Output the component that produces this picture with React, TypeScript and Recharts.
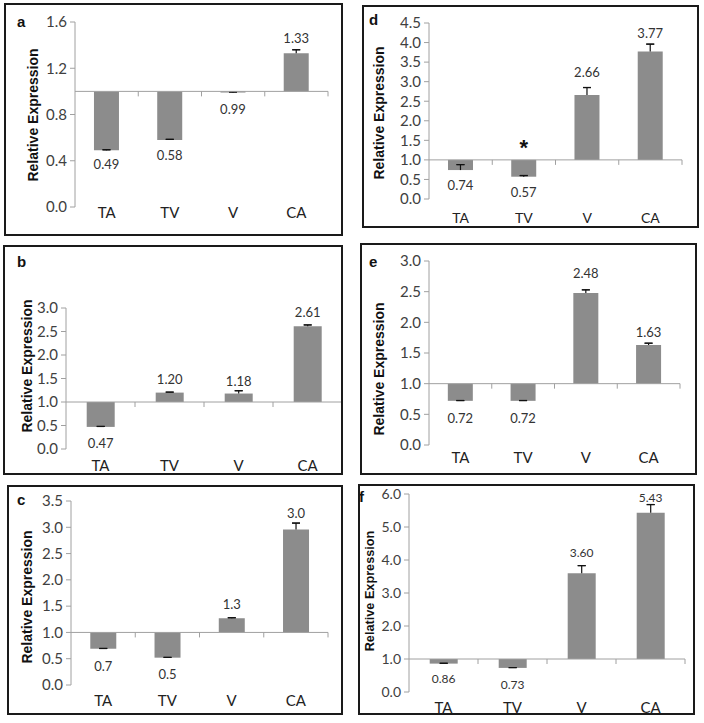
import React from 'react';
import { BarChart, Bar, XAxis, YAxis, ReferenceLine, ErrorBar, LabelList, Label } from 'recharts';

const categories = ['TA', 'TV', 'V', 'CA'];
const baseline = 1;

const valuesA = [0.49, 0.58, 0.99, 1.33];
const errorsA = [0.005, 0.005, 0.005, 0.03];
const ticksA = [0, 0.4, 0.8, 1.2, 1.6];

const valuesB = [0.47, 1.2, 1.18, 2.61];
const errorsB = [0.01, 0.01, 0.06, 0.03];
const ticksB = [0, 0.5, 1, 1.5, 2, 2.5, 3];

const valuesC = [0.69, 0.52, 1.27, 2.96];
const errorsC = [0.005, 0.005, 0.01, 0.12];
const ticksC = [0, 0.5, 1, 1.5, 2, 2.5, 3, 3.5];

const valuesD = [0.74, 0.57, 2.66, 3.77];
const errorsD = [0.14, 0.03, 0.19, 0.19];
const ticksD = [0, 0.5, 1, 1.5, 2, 2.5, 3, 3.5, 4, 4.5];
const annotD = ['', '*', '', ''];

const valuesE = [0.72, 0.72, 2.48, 1.63];
const errorsE = [0.005, 0.005, 0.05, 0.03];
const ticksE = [0, 0.5, 1, 1.5, 2, 2.5, 3];

const valuesF = [0.86, 0.73, 3.6, 5.43];
const errorsF = [0.01, 0.01, 0.23, 0.25];
const ticksF = [0, 1, 2, 3, 4, 5, 6];

const yTitle = 'Relative Expression';

type Panel = {
  letter: string;
  values: number[];
  errors: number[];
  ticks: number[];
  annot?: string[];
  tickDec: number;
  labelDec: number;
  box: { left: number; top: number; w: number; h: number };
  plot: { x: number; top: number; bottom: number; right: number };
  catMargin: number;
  tickFont: number;
  dataFont: number;
  catFont: number;
  yLabel: { x: number; y: number; size: number };
  letterPos: { x: number; y: number };
  labelDy: number[];
};

const panels: Panel[] = [
  {
    letter: 'a', values: valuesA, errors: errorsA, ticks: ticksA, tickDec: 1, labelDec: 2,
    box: { left: 4, top: 3, w: 339, h: 233 },
    plot: { x: 75, top: 22, bottom: 207, right: 328 },
    catMargin: 0, tickFont: 15, dataFont: 13, catFont: 15,
    yLabel: { x: 33, y: 115, size: 14 }, letterPos: { x: 17, y: 27 },
    labelDy: [14, 15, 16, 15],
  },
  {
    letter: 'b', values: valuesB, errors: errorsB, ticks: ticksB, tickDec: 1, labelDec: 2,
    box: { left: 3, top: 245, w: 340, h: 230 },
    plot: { x: 66, top: 308, bottom: 449, right: 342 },
    catMargin: 11, tickFont: 15, dataFont: 13, catFont: 15,
    yLabel: { x: 27, y: 366, size: 14 }, letterPos: { x: 17, y: 267 },
    labelDy: [16, 14, 13, 14],
  },
  {
    letter: 'c', values: valuesC, errors: errorsC, ticks: ticksC, tickDec: 1, labelDec: 1,
    box: { left: 7, top: 485, w: 336, h: 230 },
    plot: { x: 71, top: 501, bottom: 685, right: 328 },
    catMargin: 10, tickFont: 15, dataFont: 13, catFont: 15,
    yLabel: { x: 27, y: 597, size: 14 }, letterPos: { x: 17, y: 505 },
    labelDy: [17, 16, 14, 16],
  },
  {
    letter: 'd', values: valuesD, errors: errorsD, ticks: ticksD, annot: annotD, tickDec: 1, labelDec: 2,
    box: { left: 362, top: 5, w: 337, h: 223 },
    plot: { x: 429, top: 23, bottom: 199, right: 682 },
    catMargin: 14, tickFont: 15, dataFont: 13, catFont: 14,
    yLabel: { x: 379, y: 113, size: 14 }, letterPos: { x: 369, y: 25 },
    labelDy: [15, 15, 23, 19],
  },
  {
    letter: 'e', values: valuesE, errors: errorsE, ticks: ticksE, tickDec: 1, labelDec: 2,
    box: { left: 360, top: 243, w: 337, h: 232 },
    plot: { x: 429, top: 261, bottom: 445, right: 680 },
    catMargin: 7, tickFont: 15, dataFont: 13, catFont: 15,
    yLabel: { x: 379, y: 369, size: 14 }, letterPos: { x: 369, y: 267 },
    labelDy: [17, 17, 20, 13],
  },
  {
    letter: 'f', values: valuesF, errors: errorsF, ticks: ticksF, tickDec: 1, labelDec: 2,
    box: { left: 358, top: 484, w: 337, h: 231 },
    plot: { x: 409, top: 494, bottom: 692, right: 685 },
    catMargin: 10, tickFont: 14, dataFont: 12, catFont: 15,
    yLabel: { x: 370, y: 591, size: 12.7 }, letterPos: { x: 359, y: 502 },
    labelDy: [15, 17, 21, 15],
  },
];

const YW = 50;
const XH = 20;
const FONT = 'Lato, sans-serif';
const BAR = '#8c8c8c';
const AXIS = '#a0a0a0';

function PanelChart({ p }: { p: Panel }) {
  const data = categories.map((c, i) => ({
    cat: c,
    range: [baseline, p.values[i]],
    stem: [0, p.errors[i]],
    cap: [-p.errors[i], p.errors[i]],
  }));
  const { box, plot } = p;
  const margin = {
    top: plot.top - box.top,
    right: box.left + box.w - plot.right,
    left: plot.x - box.left - YW,
    bottom: box.top + box.h - plot.bottom - XH,
  };
  const max = p.ticks[p.ticks.length - 1];

  const axisShape = (props: any) => {
    const { x1, x2, y1 } = props;
    const n = categories.length;
    const step = (x2 - x1) / n;
    const marks = [];
    for (let k = 1; k <= n; k++) {
      const xx = x1 + step * k;
      marks.push(<line key={k} x1={xx} x2={xx} y1={y1} y2={y1 + 5} stroke={AXIS} strokeWidth={1} />);
    }
    return (
      <g>
        <line x1={x1} x2={x2} y1={y1} y2={y1} stroke={AXIS} strokeWidth={1} />
        {marks}
      </g>
    );
  };

  const labelContent = (props: any) => {
    const { x, y, width, height, index } = props;
    const v = p.values[index];
    const txt = v.toFixed(p.labelDec);
    const cx = x + width / 2;
    const dy = p.labelDy[index];
    const ty = v >= baseline ? y - dy : y + dy;
    const base = y + height;
    const an = p.annot ? p.annot[index] : '';
    return (
      <g>
        <text x={cx} y={ty} textAnchor="middle" dominantBaseline="central" fontSize={p.dataFont} fontFamily={FONT} fill="#333">
          {txt}
        </text>
        {an ? (
          <text x={cx} y={base - 5} textAnchor="middle" fontSize={22} fontWeight="bold" fontFamily="Liberation Sans, Arial, sans-serif" fill="#111">
            {an}
          </text>
        ) : null}
      </g>
    );
  };

  const titleContent = () => {
    const lx = p.yLabel.x - box.left;
    const ly = p.yLabel.y - box.top;
    return (
      <g>
        <text
          x={lx}
          y={ly}
          transform={`rotate(-90, ${lx}, ${ly})`}
          textAnchor="middle"
          dominantBaseline="central"
          fontSize={p.yLabel.size}
          fontWeight="bold"
          fontFamily="Liberation Sans, Arial, sans-serif"
          fill="#111"
        >
          {yTitle}
        </text>
        <text
          x={p.letterPos.x - box.left}
          y={p.letterPos.y - box.top}
          fontSize={15}
          fontWeight="bold"
          fontFamily="Liberation Sans, Arial, sans-serif"
          fill="#111"
        >
          {p.letter}
        </text>
      </g>
    );
  };

  return (
    <div style={{ position: 'absolute', left: box.left, top: box.top, width: box.w, height: box.h }}>
      <BarChart width={box.w} height={box.h} data={data} margin={margin} barCategoryGap="30%">
        <XAxis
          dataKey="cat"
          axisLine={false}
          tickLine={false}
          tickSize={0}
          tickMargin={p.catMargin}
          interval={0}
          height={XH}
          tick={{ fontSize: p.catFont, fill: '#222', fontFamily: FONT }}
        />
        <YAxis
          type="number"
          domain={[0, max]}
          ticks={p.ticks}
          interval={0}
          allowDataOverflow
          width={YW}
          axisLine={{ stroke: AXIS }}
          tickLine={{ stroke: AXIS }}
          tickSize={5}
          tickMargin={3}
          tickFormatter={(v: number) => v.toFixed(p.tickDec)}
          tick={{ fontSize: p.tickFont, fill: '#404040', fontFamily: FONT }}
        >
          <Label content={titleContent} />
        </YAxis>
        <Bar dataKey="range" fill={BAR} isAnimationActive={false}>
          <ErrorBar dataKey="stem" direction="y" width={0} stroke="#111" strokeWidth={1.2} />
          <ErrorBar dataKey="cap" direction="y" width={4} stroke="#111" strokeWidth={1.2} />
          <LabelList dataKey="range" content={labelContent} />
        </Bar>
        <ReferenceLine y={baseline} shape={axisShape} ifOverflow="extendDomain" />
      </BarChart>
      <div
        style={{
          position: 'absolute',
          left: 0,
          top: 0,
          width: box.w,
          height: box.h,
          border: '2px solid #1a1a1a',
          boxSizing: 'border-box',
          pointerEvents: 'none',
        }}
      />
    </div>
  );
}

export default function App() {
  return (
    <div style={{ position: 'absolute', left: 0, top: 0, width: 704, height: 723, background: '#fff' }}>
      {panels.map((p) => (
        <PanelChart key={p.letter} p={p} />
      ))}
    </div>
  );
}
